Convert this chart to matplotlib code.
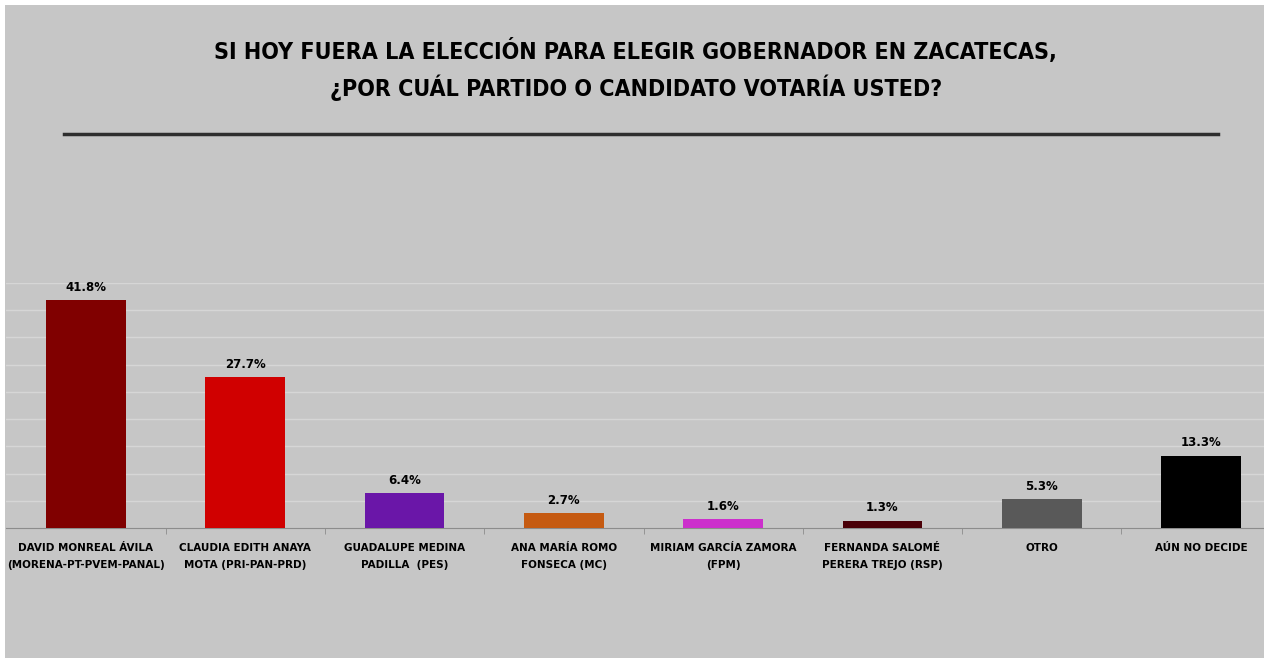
import matplotlib.pyplot as plt
from matplotlib.patches import Rectangle
from matplotlib.lines import Line2D
from matplotlib import font_manager

candidatos = [
    "DAVID MONREAL ÁVILA\n(MORENA-PT-PVEM-PANAL)",
    "CLAUDIA EDITH ANAYA\nMOTA (PRI-PAN-PRD)",
    "GUADALUPE MEDINA\nPADILLA  (PES)",
    "ANA MARÍA ROMO\nFONSECA (MC)",
    "MIRIAM GARCÍA ZAMORA\n(FPM)",
    "FERNANDA SALOMÉ\nPERERA TREJO (RSP)",
    "OTRO",
    "AÚN NO DECIDE",
]
porcentajes = [41.8, 27.7, 6.4, 2.7, 1.6, 1.3, 5.3, 13.3]
colores = ["#800000", "#d00000", "#6a16a8", "#c55a11",
           "#cc2fcc", "#4a0008", "#595959", "#000000"]

fondo = "#c6c6c6"

# narrow family if present, otherwise condensed DejaVu
nombres = {f.name for f in font_manager.fontManager.ttflist}
if "Liberation Sans Narrow" in nombres:
    fuente = ["Liberation Sans Narrow"]
    estirar = "normal"
else:
    fuente = ["DejaVu Sans"]
    estirar = "condensed"

fig = plt.figure(figsize=(12.64, 6.58), dpi=100)
fig.patch.set_facecolor("white")
fig.add_artist(Rectangle((0.004, 0), 0.996, 0.993, transform=fig.transFigure,
                         facecolor=fondo, edgecolor="none", zorder=0))

fig.text(0.503, 0.921, "SI HOY FUERA LA ELECCIÓN PARA ELEGIR GOBERNADOR EN ZACATECAS,",
         ha="center", va="center", fontsize=16.7, fontweight="bold",
         family=fuente, fontstretch=estirar)
fig.text(0.503, 0.867, "¿POR CUÁL PARTIDO O CANDIDATO VOTARÍA USTED?",
         ha="center", va="center", fontsize=16.7, fontweight="bold",
         family=fuente, fontstretch=estirar)
fig.add_artist(Line2D([0.051, 0.964], [0.797, 0.797], transform=fig.transFigure,
                      color="#2e2e2e", lw=2.5))

ax = fig.add_axes([0.005, 0.1976, 1.0082, 0.3724])
ax.set_facecolor(fondo)
x = range(len(porcentajes))
ax.bar(x, porcentajes, width=0.5, color=colores, zorder=3)
for xi, v in zip(x, porcentajes):
    ax.text(xi, v + 1.2, f"{v}%", ha="center", va="bottom",
            fontsize=8.5, fontweight="bold", family=fuente)

ax.set_xlim(-0.5, len(porcentajes) - 0.5)
ax.set_ylim(0, 45)
ax.set_yticks(range(5, 46, 5))
ax.yaxis.grid(True, color="#d6d6d6", lw=1, zorder=0)
ax.tick_params(axis="y", left=False, labelleft=False)
for s in ["top", "right", "left"]:
    ax.spines[s].set_visible(False)
ax.spines["bottom"].set_color("#8c8c8c")

ax.set_xticks(x)
ax.set_xticklabels(candidatos, fontsize=7.5, fontweight="bold", family=fuente,
                   linespacing=1.9)
ax.tick_params(axis="x", length=0, pad=11)
ax.set_xticks([i + 0.5 for i in range(len(porcentajes) - 1)], minor=True)
ax.tick_params(axis="x", which="minor", length=4, color="#8c8c8c")

fig.savefig("out.png", dpi=100, facecolor=fig.get_facecolor())
